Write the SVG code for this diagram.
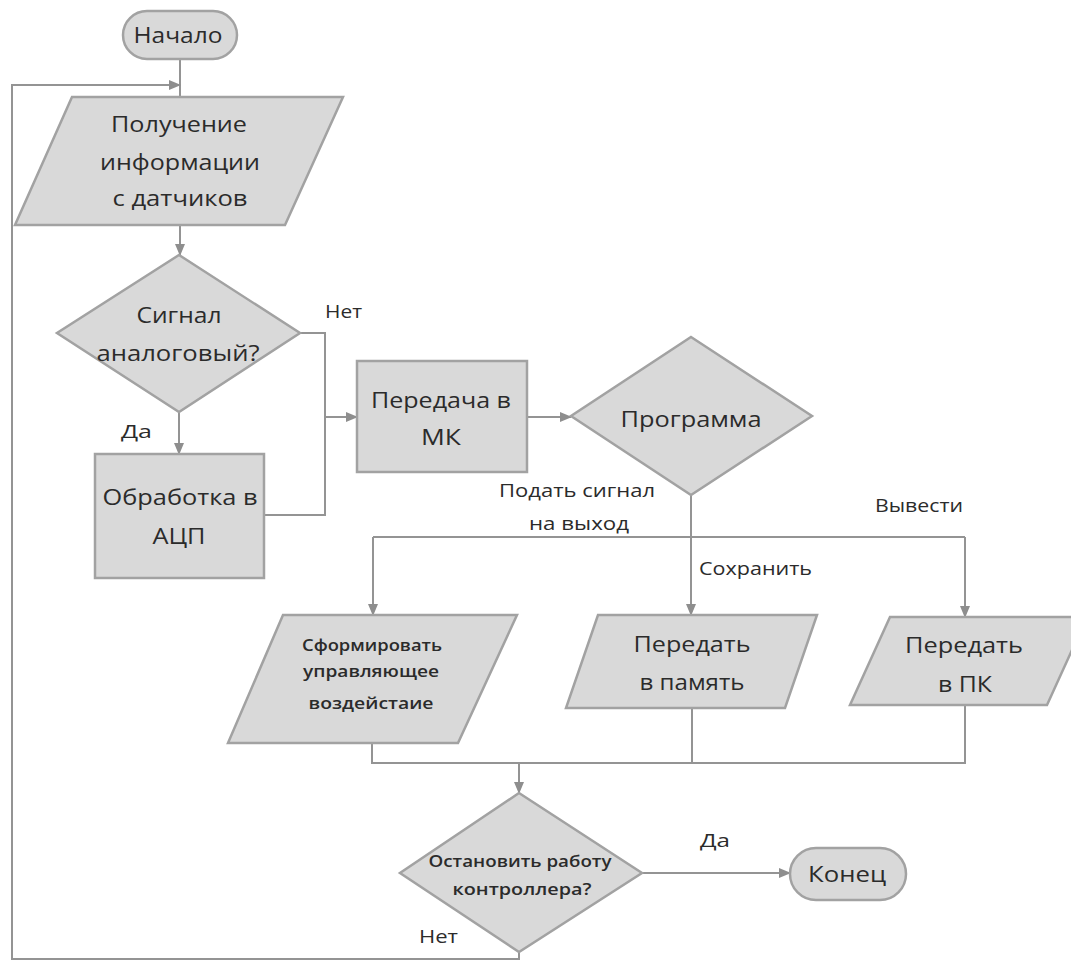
<svg xmlns="http://www.w3.org/2000/svg" width="1071" height="961" viewBox="0 0 1071 961">
<defs>
<marker id="ah" markerWidth="12" markerHeight="10" refX="11" refY="5" orient="auto" markerUnits="userSpaceOnUse">
<path d="M0,0 L12,5 L0,10 Z" fill="#8e8e8e"/>
</marker>
<style>
.sh{fill:#d9d9d9;stroke:#a2a2a2;stroke-width:2.5}
.c{fill:none;stroke:#949494;stroke-width:2}
.t{font-family:"Open Sans","Noto Sans",sans-serif;fill:#2b2b2b;text-anchor:middle;font-size:22px;font-weight:500}
.l{font-family:"Open Sans","Noto Sans",sans-serif;fill:#2b2b2b;font-size:18px;font-weight:500}
.s{font-family:"Open Sans","Noto Sans",sans-serif;fill:#2b2b2b;text-anchor:middle;font-size:16px;font-weight:600}
</style>
</defs>
<rect width="1071" height="961" fill="#fff"/>
<g id="connectors">
<path class="c" d="M180,59 V97"/>
<path class="c" d="M180,225 V255" marker-end="url(#ah)"/>
<path class="c" d="M179,412 V454" marker-end="url(#ah)"/>
<path class="c" d="M300,333 H325 V515 H264"/>
<path class="c" d="M325,417 H357" marker-end="url(#ah)"/>
<path class="c" d="M527,417 H571" marker-end="url(#ah)"/>
<path class="c" d="M691,495 V615" marker-end="url(#ah)"/>
<path class="c" d="M373,537 H965"/>
<path class="c" d="M373,537 V615" marker-end="url(#ah)"/>
<path class="c" d="M965,537 V617" marker-end="url(#ah)"/>
<path class="c" d="M372,743 V763 H965 V705 M692,708 V763"/>
<path class="c" d="M519,763 V793" marker-end="url(#ah)"/>
<path class="c" d="M642,873 H790" marker-end="url(#ah)"/>
<path class="c" d="M519,952 V959 H12 V85 H180" marker-end="url(#ah)"/>
</g>
<g id="start">
<rect class="sh" x="123" y="11" width="114" height="48" rx="24"/>
<text class="t" x="178" y="43" textLength="89" lengthAdjust="spacingAndGlyphs">Начало</text>
</g>
<g id="input">
<polygon class="sh" points="72,97 343,97 285,225 15,225"/>
<text class="t" x="179" y="132" textLength="136" lengthAdjust="spacingAndGlyphs">Получение</text>
<text class="t" x="180" y="170" textLength="160" lengthAdjust="spacingAndGlyphs">информации</text>
<text class="t" x="180" y="206" textLength="135" lengthAdjust="spacingAndGlyphs">с датчиков</text>
</g>
<g id="analog">
<polygon class="sh" points="179,255 300,333 179,412 57,333"/>
<text class="t" x="179" y="323" textLength="85" lengthAdjust="spacingAndGlyphs">Сигнал</text>
<text class="t" x="178" y="361" textLength="163" lengthAdjust="spacingAndGlyphs">аналоговый?</text>
</g>
<g id="adc">
<rect class="sh" x="95" y="454" width="169" height="124"/>
<text class="t" x="180" y="505" textLength="155" lengthAdjust="spacingAndGlyphs">Обработка в</text>
<text class="t" x="179" y="544" textLength="53" lengthAdjust="spacingAndGlyphs">АЦП</text>
</g>
<g id="mk">
<rect class="sh" x="357" y="361" width="170" height="111"/>
<text class="t" x="441" y="408" textLength="140" lengthAdjust="spacingAndGlyphs">Передача в</text>
<text class="t" x="441" y="445" textLength="40" lengthAdjust="spacingAndGlyphs">МК</text>
</g>
<g id="program">
<polygon class="sh" points="691,337 812,416 691,495 571,416"/>
<text class="t" x="691" y="427" textLength="141" lengthAdjust="spacingAndGlyphs">Программа</text>
</g>
<g id="form">
<polygon class="sh" points="283,615 517,615 458,743 228,743"/>
<text class="s" x="372" y="651" textLength="140" lengthAdjust="spacingAndGlyphs">Сформировать</text>
<text class="s" x="371" y="677" textLength="136" lengthAdjust="spacingAndGlyphs">управляющее</text>
<text class="s" x="371" y="709" textLength="125" lengthAdjust="spacingAndGlyphs">воздейстаие</text>
</g>
<g id="memory">
<polygon class="sh" points="598,615 817,615 785,708 566,708"/>
<text class="t" x="692" y="652" textLength="117" lengthAdjust="spacingAndGlyphs">Передать</text>
<text class="t" x="692" y="690" textLength="105" lengthAdjust="spacingAndGlyphs">в память</text>
</g>
<g id="pc">
<polygon class="sh" points="890,617 1087,617 1047,705 850,705"/>
<text class="t" x="964" y="653" textLength="118" lengthAdjust="spacingAndGlyphs">Передать</text>
<text class="t" x="965" y="692" textLength="54" lengthAdjust="spacingAndGlyphs">в ПК</text>
</g>
<g id="stop">
<polygon class="sh" points="519,793 642,873 519,952 400,873"/>
<text class="s" x="520" y="867" textLength="183" lengthAdjust="spacingAndGlyphs">Остановить работу</text>
<text class="s" x="522" y="895" textLength="139" lengthAdjust="spacingAndGlyphs">контроллера?</text>
</g>
<g id="end">
<rect class="sh" x="790" y="848" width="116" height="52" rx="26"/>
<text class="t" x="847" y="882" textLength="78" lengthAdjust="spacingAndGlyphs">Конец</text>
</g>
<g id="labels">
<text class="l" x="325" y="318" textLength="37" lengthAdjust="spacingAndGlyphs">Нет</text>
<text class="l" x="121" y="438" textLength="31" lengthAdjust="spacingAndGlyphs">Да</text>
<text class="l" x="499" y="497" textLength="156" lengthAdjust="spacingAndGlyphs">Подать сигнал</text>
<text class="l" x="529" y="530" textLength="100" lengthAdjust="spacingAndGlyphs">на выход</text>
<text class="l" x="875" y="512" textLength="88" lengthAdjust="spacingAndGlyphs">Вывести</text>
<text class="l" x="699" y="575" textLength="113" lengthAdjust="spacingAndGlyphs">Сохранить</text>
<text class="l" x="700" y="847" textLength="30" lengthAdjust="spacingAndGlyphs">Да</text>
<text class="l" x="419" y="943" textLength="39" lengthAdjust="spacingAndGlyphs">Нет</text>
</g>
</svg>
